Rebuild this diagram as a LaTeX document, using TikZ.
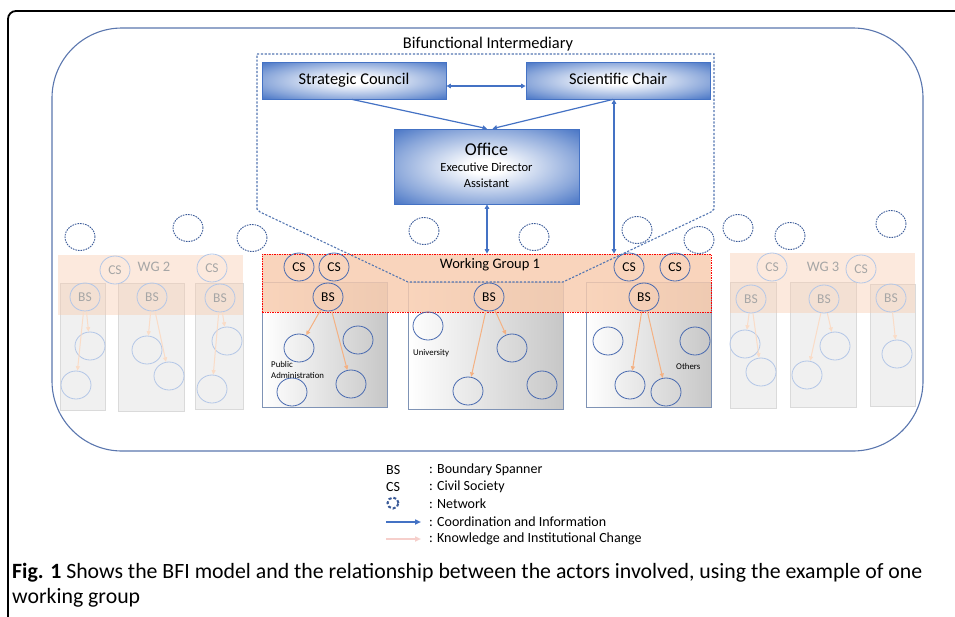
\documentclass[tikz,border=0pt]{standalone}
\usepackage{fontspec}
\setmainfont{Carlito}
\usetikzlibrary{arrows.meta,shapes.geometric}
\definecolor{boxblue}{HTML}{4472C4}
\definecolor{frameblue}{HTML}{5A76AE}
\definecolor{funnel}{HTML}{5577B2}
\definecolor{netblue}{HTML}{3A5A98}
\definecolor{circblue}{HTML}{4A6BB0}
\definecolor{faint}{HTML}{B4C7E7}
\definecolor{wgfill}{HTML}{F8CBAD}
\definecolor{graybox}{HTML}{F0F0F0}
\definecolor{grayedge}{HTML}{DADADA}
\definecolor{boxedge}{HTML}{7F93B5}
\definecolor{arrorange}{HTML}{F4B183}
\definecolor{legpink}{HTML}{F6CFCB}
\definecolor{fainttext}{HTML}{A6A6A6}
\pgfdeclareradialshading{boxshade}{\pgfpoint{0bp}{0bp}}{color(0bp)=(white); color(5bp)=(white); color(25bp)=(boxblue!62); color(36bp)=(boxblue); color(50bp)=(boxblue)}
\tikzset{
  bigbox/.style={draw=boxblue, line width=0.8, shading=boxshade, inner sep=0},
  circ/.style={ellipse, draw=circblue, line width=0.8, minimum width=30, minimum height=28, inner sep=0, font=\fontsize{13.5}{13.5}\selectfont},
  fcirc/.style={ellipse, draw=faint, line width=0.8, minimum width=30, minimum height=28, inner sep=0, text=fainttext, font=\fontsize{13.5}{13.5}\selectfont},
  net/.style={ellipse, draw=netblue, dash pattern=on 1.6 off 1, line width=0.9, minimum width=30, minimum height=27, inner sep=0},
  bluearrow/.style={draw=boxblue, line width=1.2, {Triangle[length=4.5,width=4.5]}-{Triangle[length=4.5,width=4.5]}},
  bluetip/.style={draw=boxblue, line width=1.2, -{Triangle[length=4.5,width=4.5]}},
  oarrow/.style={draw=arrorange, line width=1, -{Triangle[length=4.5,width=4]}},
  farrow/.style={draw=arrorange!45, line width=1, -{Triangle[length=4.5,width=4]}},
  wgbox/.style={draw=boxedge, line width=0.9, left color=white, right color=black!22, inner sep=0},
  fbox/.style={draw=grayedge, line width=0.8, fill=graybox, inner sep=0},
  lbl/.style={inner sep=0, font=\fontsize{14}{14}\selectfont},
  small/.style={anchor=west, inner sep=0, font=\fontsize{8.8}{11}\selectfont},
}
\begin{document}
\begin{tikzpicture}[x=1pt, y=-1pt]
\useasboundingbox (0,0) rectangle (955,616);
% page frame
\draw[black, line width=1.8, rounded corners=8] (8,620) -- (8,11) -- (960,11);
% outer rounded frame
\draw[frameblue, line width=1.1, rounded corners=70] (52,28) rectangle (923,451);

% network circles
\foreach \n/\x/\y in {n1/80/237, n2/188/228, n3/252/238, n4/424/231, n5/534/237, n6/637/230, n7/699/240, n8/738/228, n9/790/236, n10/891/224}
  \node[net] (\n) at (\x,\y) {};

% ---------- WG 2 ----------
\node[fbox, minimum width=45, minimum height=127] (g21) at (82.5,346.5) {};
\node[fbox, minimum width=66, minimum height=128] (g22) at (151,347) {};
\node[fbox, minimum width=48, minimum height=126] (g23) at (219,346) {};
\fill[wgfill, fill opacity=0.42] (58,255) rectangle (243,315);
\node[lbl, text=fainttext, font=\fontsize{14.5}{14.5}\selectfont] (wg2) at (154,267) {WG 2};
\foreach \n/\x/\y/\t in {cs5/115/270/CS, cs6/212/268/CS, bs4/85/297/BS, bs5/152/297/BS, bs6/220/298/BS, a1/90/346/, a2/76/385/, a3/147/350/, a4/169/376/, a5/227/341/, a6/212/389/}
  \node[fcirc] (\n) at (\x,\y) {\t};
\foreach \a/\b in {bs4/a1, bs4/a2, bs5/a3, bs5/a4, bs6/a5, bs6/a6}
  \draw[farrow] (\a) -- (\b);

% ---------- WG 3 ----------
\node[fbox, minimum width=46, minimum height=126] (g31) at (753,345) {};
\node[fbox, minimum width=66, minimum height=125] (g32) at (823,344.5) {};
\node[fbox, minimum width=45, minimum height=122] (g33) at (892.5,345) {};
\fill[wgfill, fill opacity=0.42] (730,253) rectangle (915,313);
\node[lbl, text=fainttext, font=\fontsize{14.5}{14.5}\selectfont] (wg3) at (823,267) {WG 3};
\foreach \n/\x/\y/\t in {cs7/772/267/CS, cs8/861/269/CS, bs7/751/299/BS, bs8/824/299/BS, bs9/891/298/BS, b1/745/344/, b2/761/372/, b3/835/346/, b4/807/375/, b5/897/354/}
  \node[fcirc] (\n) at (\x,\y) {\t};
\foreach \a/\b in {bs7/b1, bs7/b2, bs8/b3, bs8/b4, bs9/b5}
  \draw[farrow] (\a) -- (\b);

% ---------- WG 1 ----------
\node[wgbox, minimum width=125, minimum height=125] (pa) at (324.5,344.5) {};
\node[wgbox, minimum width=155, minimum height=127] (univ) at (485.5,345.5) {};
\node[wgbox, minimum width=125, minimum height=125] (oth) at (648.5,344.5) {};
\node[draw=red, dash pattern=on 1.5 off 1, line width=0.7, fill=wgfill, fill opacity=0.82, draw opacity=1, minimum width=449, minimum height=58, inner sep=0] (wg1) at (486.5,283) {};
\node[lbl, font=\fontsize{14.5}{14.5}\selectfont] (wg1t) at (490,265) {Working Group 1};
\foreach \n/\x/\y/\t in {cs1/299/267/CS, cs2/334/267/CS, bs1/328/297/BS, bs2/489/297/BS, cs3/629/267/CS, cs4/675/267/CS, bs3/644/297/BS, p1/299/348/, p2/358/340/, p3/351/384/, p4/292/392/, u1/428/326/, u2/512/348/, u3/468/391/, u4/542/385/, o1/608/341/, o2/695/341/, o3/630/385/, o4/666/392/}
  \node[circ] (\n) at (\x,\y) {\t};
\foreach \a/\b in {bs1/p1, bs1/p3, bs2/u2, bs2/u3, bs3/o3, bs3/o4}
  \draw[oarrow] (\a) -- (\b);
\node[small, align=left] (pat) at (271,370) {Public\\Administration};
\node[small] (ut) at (413,353) {University};
\node[small] (ot) at (676,366) {Others};

% ---------- Bifunctional Intermediary ----------
\draw[funnel, line width=1.1, dash pattern=on 2.2 off 1.6] (257,54) -- (714,54) -- (714,209) -- (711,212) -- (563,282) -- (408,282) -- (260,212) -- (257,209) -- cycle;
\node[lbl, font=\fontsize{16.4}{16.4}\selectfont] (bfi) at (488,44) {Bifunctional Intermediary};
\node[bigbox, minimum width=184, minimum height=37, text height=11.5pt, text depth=3.5pt, font=\fontsize{16.4}{16.4}\selectfont] (council) at (354,80.5) {Strategic Council};
\node[bigbox, minimum width=184, minimum height=37, text height=11.5pt, text depth=3.5pt, font=\fontsize{16.4}{16.4}\selectfont] (chair) at (618,80.5) {Scientific Chair};
\node[bigbox, minimum width=185, minimum height=75] (office) at (486.5,166.5) {};
\node[inner sep=0, font=\fontsize{18}{18}\selectfont] (off1) at (486.5,149) {Office};
\node[inner sep=0, font=\fontsize{12.5}{12.5}\selectfont] (off2) at (486.5,167) {Executive Director};
\node[inner sep=0, font=\fontsize{12.5}{12.5}\selectfont] (off3) at (486.5,183) {Assistant};
\draw[bluearrow] (council.east |- 0,86) -- (chair.west |- 0,86);
\draw[bluetip] ([xshift=-2]council.south) -- ([xshift=0.5]office.north);
\draw[bluetip] ([xshift=-5]chair.south) -- ([xshift=6]office.north);
\draw[bluearrow] ([xshift=0.5]office.south) -- ([xshift=0.5]office.south |- wg1.north);
\draw[bluearrow] ([xshift=-4]chair.south |- wg1.north) -- ([xshift=-4]chair.south);

% ---------- legend ----------
\node[lbl, anchor=west] (lbs) at (386,470) {BS};
\node[lbl, anchor=west] (lcs) at (386,487) {CS};
\node[circle, draw=netblue, line width=2, dash pattern=on 3 off 2, minimum size=11, inner sep=0] (lnet) at (393,503) {};
\coordinate (lb1) at (386,522);
\coordinate (lb2) at (421,522);
\coordinate (lp1) at (386,539);
\coordinate (lp2) at (421,539);
\draw[draw=boxblue, line width=1.8, -{Triangle[length=6,width=5]}] (lb1) -- (lb2);
\draw[draw=legpink, line width=1.8, -{Triangle[length=6,width=5]}] (lp1) -- (lp2);
\node[lbl, anchor=west] (t1) at (429,470) {: Boundary Spanner};
\node[lbl, anchor=west] (t2) at (429,487) {: Civil Society};
\node[lbl, anchor=west] (t3) at (429,504) {: Network};
\node[lbl, anchor=west] (t4) at (429,522) {: Coordination and Information};
\node[lbl, anchor=west] (t5) at (429,539) {: Knowledge and Institutional Change};

% ---------- caption ----------
\node[anchor=west, inner sep=0, font=\fontsize{21.8}{22}\selectfont] (cap1) at (12,573) {\textbf{Fig. 1} Shows the BFI model and the relationship between the actors involved, using the example of one};
\node[anchor=west, inner sep=0, font=\fontsize{21.8}{22}\selectfont] (cap2) at (12,598) {working group};
\end{tikzpicture}
\end{document}
